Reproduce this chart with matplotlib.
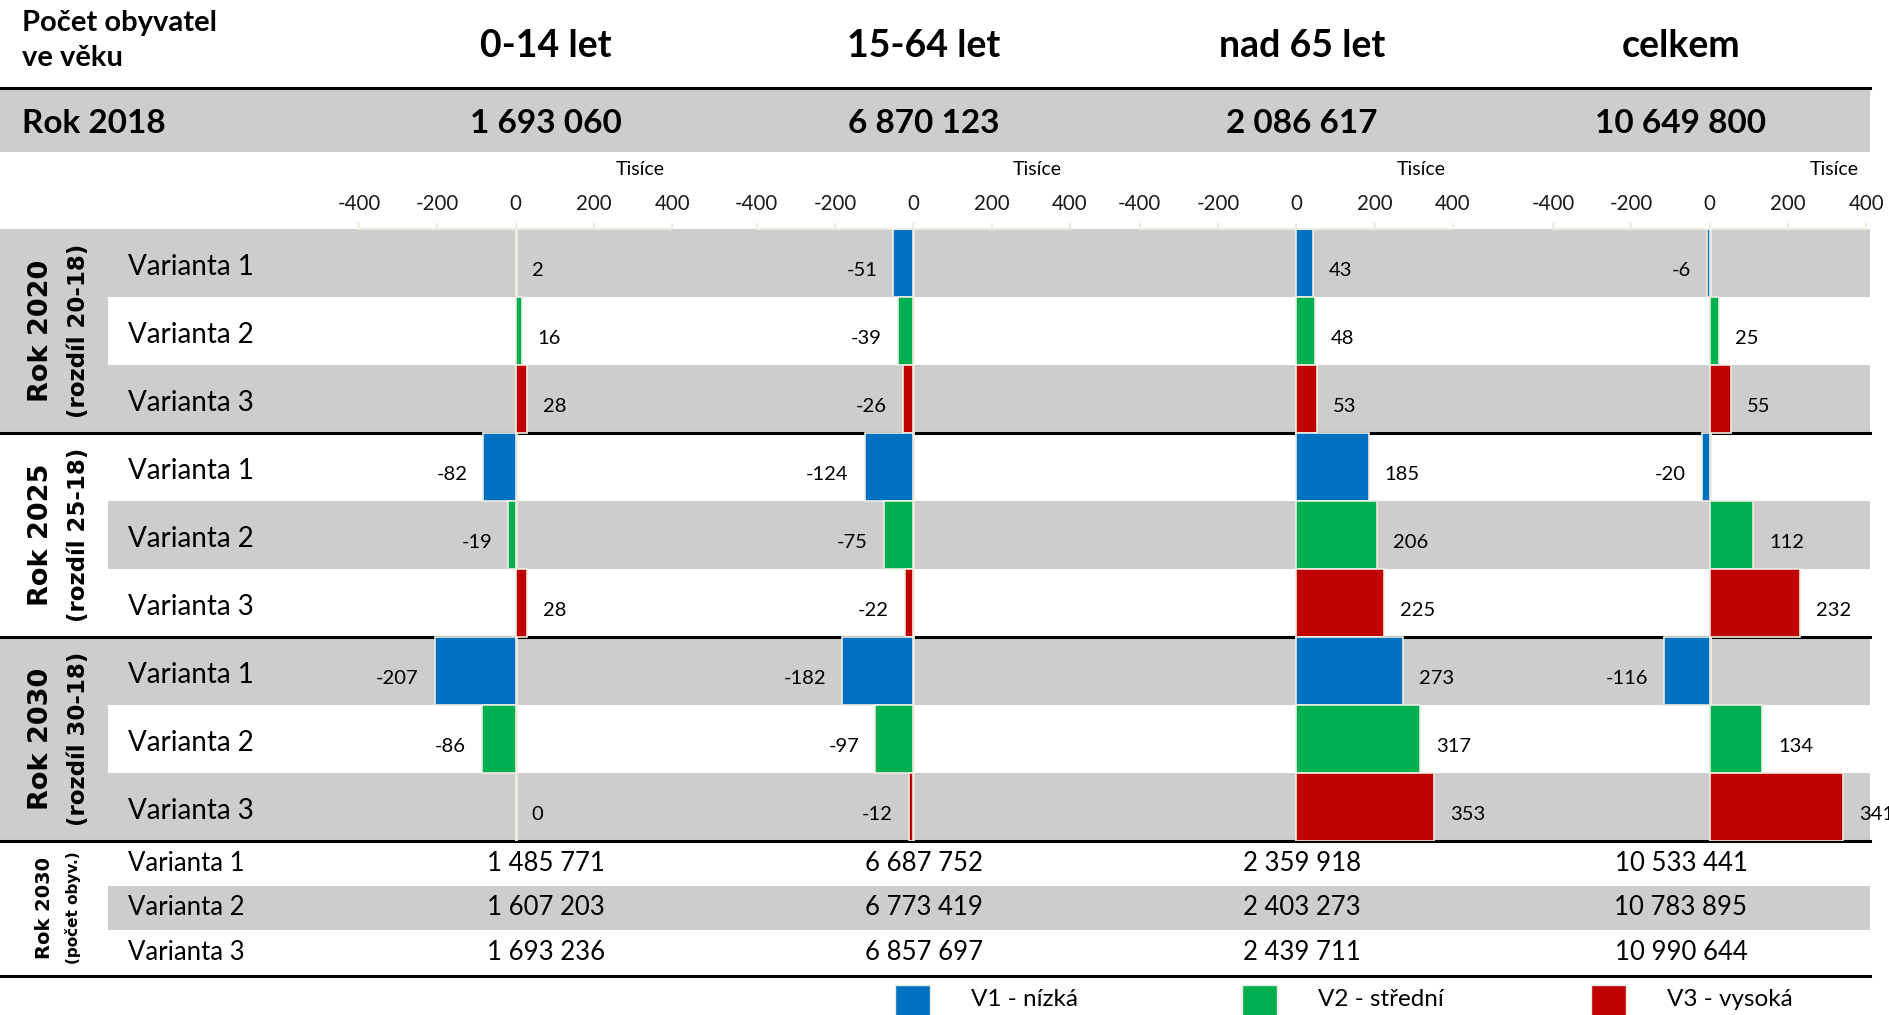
import matplotlib.pyplot as plt
from matplotlib.patches import Rectangle

plt.rcParams['font.family'] = ['Lato', 'DejaVu Sans']
plt.rcParams['axes.unicode_minus'] = False

# ---- data ----
sloupce = ['0-14 let', '15-64 let', 'nad 65 let', 'celkem']
rok2018 = ['1 693 060', '6 870 123', '2 086 617', '10 649 800']
roky = ['Rok 2020', 'Rok 2025', 'Rok 2030']
rozdily = ['(rozdíl 20-18)', '(rozdíl 25-18)', '(rozdíl 30-18)']
varianty = ['Varianta 1', 'Varianta 2', 'Varianta 3']
legenda = ['V1 - nízká', 'V2 - střední', 'V3 - vysoká']
barvy = ['#0070C0', '#00B050', '#C00000']

# zmena proti 2018 v tisicich: 2020 V1-V3, 2025 V1-V3, 2030 V1-V3
zmena_0_14 = [2, 16, 28, -82, -19, 28, -207, -86, 0]
zmena_15_64 = [-51, -39, -26, -124, -75, -22, -182, -97, -12]
zmena_65 = [43, 48, 53, 185, 206, 225, 273, 317, 353]
zmena_celkem = [-6, 25, 55, -20, 112, 232, -116, 134, 341]
zmeny = [zmena_0_14, zmena_15_64, zmena_65, zmena_celkem]

stav2030_v1 = ['1 485 771', '6 687 752', '2 359 918', '10 533 441']
stav2030_v2 = ['1 607 203', '6 773 419', '2 403 273', '10 783 895']
stav2030_v3 = ['1 693 236', '6 857 697', '2 439 711', '10 990 644']
stav2030 = [stav2030_v1, stav2030_v2, stav2030_v3]

osa_ticks = [-400, -200, 0, 200, 400]

# ---- layout (pixels) ----
W, H = 1889, 1015
sede = '#cdcdcd'
krem = '#eeece1'
pravy = 1870
levy_sl = 108
top_data = 229
row_h = 68
stred_sl = [546, 924, 1302, 1681]
nula = [515.6, 913.2, 1296.3, 1709.5]
px_na_tis = 156.6 / 400

fig = plt.figure(figsize=(W / 100, H / 100), dpi=100)
bg = fig.add_axes([0, 0, 1, 1])
bg.set_xlim(0, W)
bg.set_ylim(H, 0)
bg.axis('off')

# header
bg.text(22, 23, 'Počet obyvatel', fontsize=21, weight='bold', va='center')
bg.text(22, 58, 've věku', fontsize=21, weight='bold', va='center')
for i, s in enumerate(sloupce):
    bg.text(stred_sl[i], 46, s, fontsize=27, weight='bold', ha='center', va='center')
bg.plot([0, pravy], [88, 88], color='black', lw=2.2)
bg.add_patch(Rectangle((0, 89), pravy, 63, color=sede, lw=0))
bg.text(22, 123, 'Rok 2018', fontsize=24, weight='bold', va='center')
for i, s in enumerate(rok2018):
    bg.text(stred_sl[i], 123, s, fontsize=24, weight='bold', ha='center', va='center')

# row backgrounds
for i in range(9):
    if i % 2 == 0:
        bg.add_patch(Rectangle((levy_sl, top_data + i * row_h), pravy - levy_sl, row_h, color=sede, lw=0))
for g in (0, 2):
    bg.add_patch(Rectangle((0, top_data + g * 3 * row_h), levy_sl, 3 * row_h, color=sede, lw=0))
for g in range(3):
    y = top_data + (g + 1) * 3 * row_h
    bg.plot([0, pravy], [y, y], color='black', lw=2.2)
    yc = top_data + g * 3 * row_h + 1.5 * row_h
    bg.text(41, yc, roky[g], rotation=90, fontsize=19.5, weight='bold', family='DejaVu Sans',
            ha='center', va='center')
    bg.text(79, yc, rozdily[g], rotation=90, fontsize=16.5, weight='bold', family='DejaVu Sans',
            ha='center', va='center')
    for k in range(3):
        bg.text(128, top_data + (g * 3 + k) * row_h + row_h / 2 + 4, varianty[k], fontsize=20, va='center')

# bottom table
tab_top = top_data + 9 * row_h
tab_h = 44.5
bg.add_patch(Rectangle((levy_sl, tab_top + tab_h), pravy - levy_sl, tab_h, color=sede, lw=0))
bg.plot([0, pravy], [tab_top + 3 * tab_h + 1, tab_top + 3 * tab_h + 1], color='black', lw=2.2)
yc = tab_top + 1.5 * tab_h
bg.text(44, yc, 'Rok 2030', rotation=90, fontsize=14, weight='bold', family='DejaVu Sans',
        ha='center', va='center')
bg.text(73, yc, '(počet obyv.)', rotation=90, fontsize=11, weight='bold', family='DejaVu Sans',
        ha='center', va='center')
for k in range(3):
    ry = tab_top + k * tab_h + tab_h / 2
    bg.text(128, ry, varianty[k], fontsize=18.5, va='center')
    for i in range(4):
        bg.text(stred_sl[i], ry, stav2030[k][i], fontsize=18.5, ha='center', va='center')

# legend
leg_x = [895, 1242, 1591]
for k in range(3):
    bg.add_patch(Rectangle((leg_x[k], 985), 35, 32, facecolor=barvy[k], edgecolor=krem, lw=1))
    bg.text(leg_x[k] + 76, 1000, legenda[k], fontsize=17.5, va='center')

# bar panels
for p in range(4):
    left = nula[p] - 400 * px_na_tis
    ax = fig.add_axes([left / W, 1 - (top_data + 9 * row_h) / H, 800 * px_na_tis / W, 9 * row_h / H])
    ax.set_facecolor('none')
    ax.set_xlim(-400, 400)
    ax.set_ylim(9, 0)
    pozice = [i + 0.5 for i in range(9)]
    ax.axvline(0, color=krem, lw=2, zorder=1)
    ax.barh(pozice, zmeny[p], height=1, color=[barvy[i % 3] for i in range(9)],
            edgecolor=krem, linewidth=1.2, zorder=2)
    for y, v in zip(pozice, zmeny[p]):
        if v >= 0:
            ax.annotate(str(v), (v, y), xytext=(11.5, -5.5), textcoords='offset points',
                        ha='left', va='center', fontsize=14.5, annotation_clip=False)
        else:
            ax.annotate(str(v), (v, y), xytext=(-11.5, -5.5), textcoords='offset points',
                        ha='right', va='center', fontsize=14.5, annotation_clip=False)
    ax.xaxis.tick_top()
    ax.set_xticks(osa_ticks)
    ax.set_yticks([])
    ax.tick_params(axis='x', direction='out', length=4, width=1.5, color=krem,
                   labelcolor='#1a1a1a', labelsize=14.8, pad=7)
    for s in ('bottom', 'left', 'right'):
        ax.spines[s].set_visible(False)
    ax.spines['top'].set_color(krem)
    ax.spines['top'].set_linewidth(1.5)
    ax.text(0.8975, 1.098, 'Tisíce', transform=ax.transAxes, fontsize=14,
            ha='center', va='center')

fig.savefig('out.png', dpi=100)
